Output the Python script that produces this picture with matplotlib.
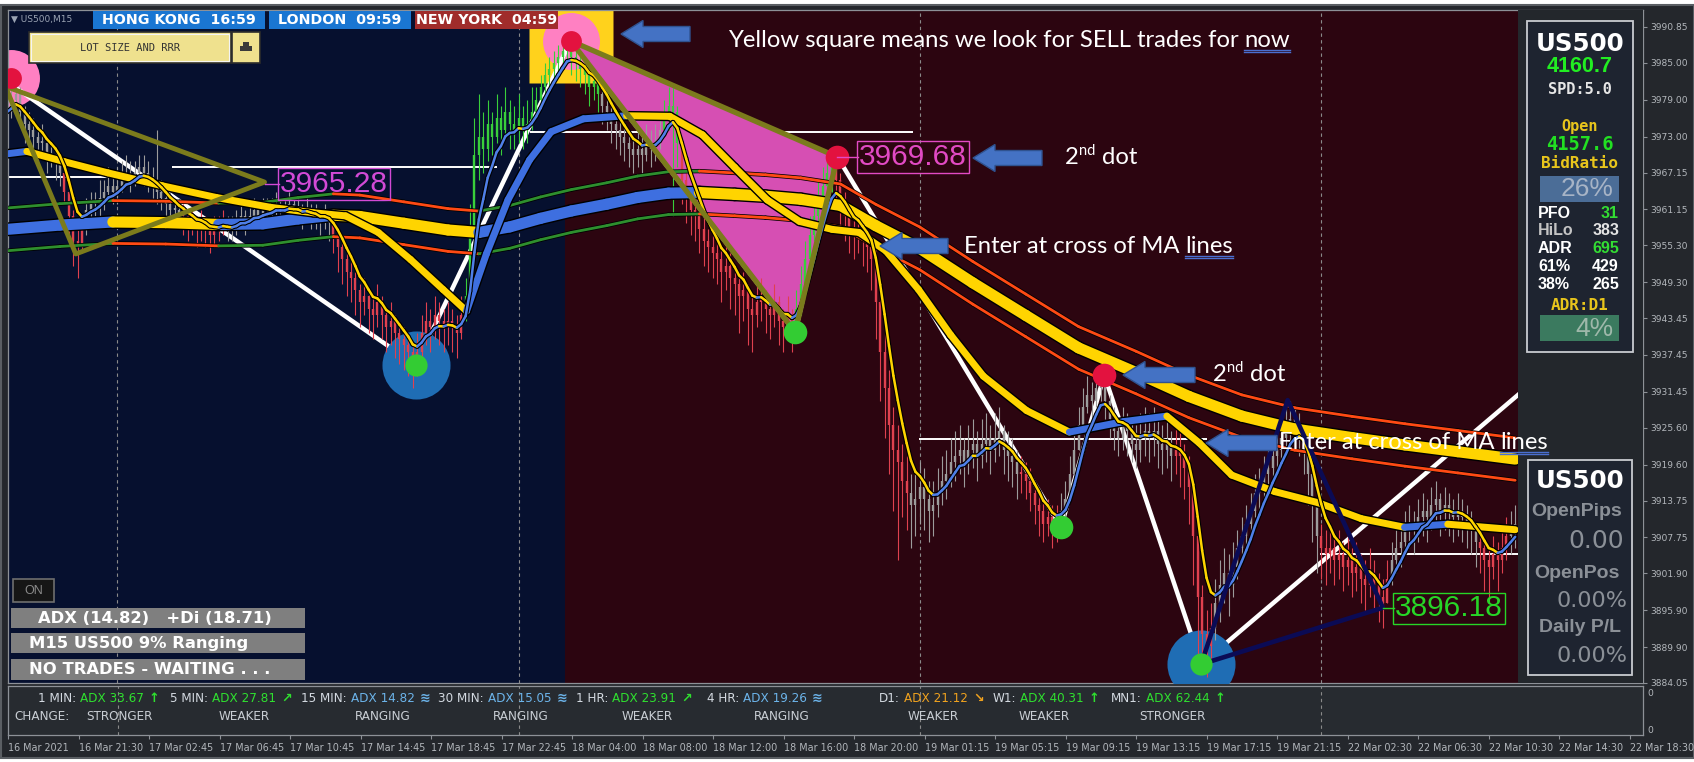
import numpy as np
import pandas as pd
import matplotlib
matplotlib.use("Agg")
import matplotlib.pyplot as plt
from matplotlib.collections import LineCollection
from matplotlib.patches import Rectangle, Polygon
from matplotlib import font_manager as fm

# ------------------------------------------------------------------ data
close = [
    3977, 3979, 3980, 3977, 3975, 3974, 3973, 3972, 3972, 3970,
    3970, 3969, 3967, 3964, 3960, 3956, 3955, 3958, 3961, 3962,
    3962, 3963, 3964, 3965, 3964, 3965, 3966, 3967, 3966, 3967,
    3968, 3967, 3966, 3965, 3964, 3963, 3962, 3961, 3961, 3960,
    3960, 3959, 3959, 3958, 3959, 3958, 3957, 3958, 3958, 3959,
    3958, 3958, 3959, 3960, 3959, 3960, 3961, 3960, 3961, 3961,
    3961, 3962, 3961, 3961, 3962, 3961, 3961, 3960, 3961, 3960,
    3960, 3959, 3960, 3959, 3957, 3955, 3953, 3951, 3950, 3948,
    3946, 3947, 3945, 3944, 3946, 3944, 3942, 3943, 3941, 3940,
    3939, 3938, 3936, 3938, 3941, 3943, 3942, 3944, 3943, 3942,
    3943, 3942, 3941, 3944, 3947, 3958, 3970, 3973, 3971, 3975,
    3973, 3976, 3974, 3977, 3975, 3974, 3976, 3974, 3975, 3977,
    3979, 3981, 3983, 3984, 3985, 3986, 3987, 3988, 3986, 3985,
    3984, 3983, 3981, 3982, 3980, 3978, 3977, 3975, 3974, 3973,
    3972, 3971, 3970, 3971, 3970, 3972, 3971, 3972, 3974, 3976,
    3978, 3977, 3972, 3966, 3963, 3961, 3960, 3958, 3956, 3955,
    3954, 3953, 3951, 3952, 3950, 3949, 3947, 3948, 3945, 3944,
    3946, 3947, 3945, 3944, 3946, 3943, 3942, 3944, 3942, 3945,
    3949, 3953, 3957, 3960, 3963, 3965, 3967, 3968, 3966, 3962,
    3960, 3958, 3957, 3958, 3956, 3955, 3953, 3946, 3938, 3932,
    3926, 3922, 3920, 3917, 3915, 3913, 3914, 3916, 3914, 3912,
    3913, 3915, 3917, 3918, 3920, 3921, 3922, 3920, 3922, 3923,
    3921, 3923, 3924, 3922, 3924, 3925, 3922, 3921, 3920, 3918,
    3918, 3917, 3915, 3913, 3912, 3910, 3911, 3909, 3910, 3912,
    3914, 3918, 3922, 3926, 3929, 3931, 3930, 3932, 3933, 3930,
    3927, 3925, 3924, 3926, 3925, 3923, 3922, 3924, 3925, 3924,
    3925, 3923, 3922, 3923, 3921, 3922, 3921, 3919, 3916, 3908,
    3898, 3892, 3890, 3893, 3897, 3900, 3902, 3900, 3903, 3906,
    3908, 3910, 3912, 3915, 3916, 3918, 3919, 3921, 3922, 3924,
    3925, 3927, 3926, 3925, 3922, 3918, 3913, 3908, 3906, 3905,
    3906, 3904, 3905, 3903, 3904, 3902, 3903, 3901, 3900, 3902,
    3900, 3898, 3897, 3901, 3904, 3906, 3907, 3909, 3910, 3909,
    3911, 3912, 3911, 3913, 3914, 3912, 3913, 3912, 3911, 3912,
    3911, 3910, 3909, 3907, 3906, 3904, 3903, 3905, 3904, 3906,
    3908, 3909, 3910]
high = [
    3979, 3981, 3983, 3981, 3978, 3977, 3976, 3974, 3975, 3973,
    3972, 3971, 3970, 3968, 3965, 3961, 3958, 3960, 3963, 3964,
    3964, 3966, 3966, 3968, 3967, 3968, 3969, 3970, 3969, 3969,
    3970, 3970, 3969, 3968, 3974, 3966, 3965, 3964, 3963, 3963,
    3962, 3961, 3961, 3960, 3961, 3960, 3959, 3960, 3960, 3961,
    3960, 3960, 3961, 3962, 3961, 3962, 3963, 3962, 3963, 3963,
    3963, 3964, 3963, 3963, 3964, 3963, 3963, 3962, 3963, 3962,
    3962, 3961, 3962, 3961, 3960, 3958, 3956, 3954, 3953, 3951,
    3949, 3950, 3948, 3947, 3949, 3947, 3945, 3946, 3944, 3943,
    3942, 3941, 3939, 3941, 3944, 3946, 3945, 3947, 3946, 3945,
    3946, 3945, 3944, 3947, 3950, 3962, 3976, 3980, 3977, 3979,
    3977, 3980, 3978, 3981, 3979, 3978, 3980, 3978, 3979, 3981,
    3981, 3983, 3985, 3986, 3987, 3988, 3989, 3990, 3989, 3988,
    3987, 3986, 3984, 3984, 3983, 3981, 3980, 3978, 3977, 3976,
    3975, 3974, 3973, 3974, 3973, 3975, 3974, 3975, 3977, 3979,
    3981, 3981, 3978, 3973, 3967, 3965, 3963, 3962, 3960, 3958,
    3957, 3956, 3955, 3955, 3954, 3952, 3951, 3951, 3949, 3947,
    3949, 3950, 3948, 3947, 3949, 3947, 3945, 3947, 3945, 3948,
    3952, 3956, 3960, 3963, 3966, 3968, 3969, 3970, 3969, 3967,
    3964, 3962, 3960, 3961, 3960, 3958, 3957, 3955, 3948, 3941,
    3935, 3929, 3926, 3923, 3921, 3918, 3918, 3920, 3919, 3917,
    3917, 3919, 3921, 3922, 3924, 3925, 3926, 3924, 3926, 3927,
    3925, 3927, 3928, 3926, 3928, 3929, 3926, 3925, 3924, 3922,
    3921, 3920, 3919, 3917, 3915, 3914, 3914, 3913, 3913, 3915,
    3917, 3921, 3925, 3929, 3932, 3934, 3933, 3934, 3935, 3933,
    3931, 3929, 3927, 3929, 3928, 3927, 3926, 3928, 3929, 3928,
    3929, 3927, 3926, 3927, 3925, 3926, 3925, 3923, 3921, 3917,
    3909, 3900, 3896, 3897, 3901, 3904, 3906, 3905, 3907, 3909,
    3911, 3913, 3915, 3918, 3919, 3921, 3922, 3924, 3925, 3927,
    3929, 3930, 3929, 3928, 3926, 3923, 3919, 3914, 3910, 3909,
    3910, 3908, 3909, 3907, 3908, 3906, 3907, 3905, 3904, 3906,
    3904, 3902, 3901, 3904, 3907, 3909, 3910, 3912, 3913, 3912,
    3914, 3915, 3914, 3916, 3917, 3915, 3916, 3915, 3914, 3915,
    3914, 3913, 3912, 3910, 3909, 3907, 3906, 3908, 3907, 3909,
    3911, 3912, 3913]
low = [
    3974, 3976, 3978, 3975, 3972, 3972, 3970, 3969, 3970, 3967,
    3968, 3966, 3965, 3962, 3957, 3952, 3950, 3954, 3957, 3959,
    3960, 3960, 3961, 3963, 3962, 3962, 3964, 3965, 3964, 3965,
    3966, 3965, 3964, 3963, 3962, 3961, 3960, 3959, 3959, 3958,
    3957, 3956, 3957, 3955, 3956, 3955, 3954, 3955, 3956, 3957,
    3956, 3956, 3957, 3958, 3957, 3958, 3959, 3958, 3959, 3959,
    3959, 3960, 3959, 3959, 3960, 3959, 3959, 3958, 3959, 3958,
    3958, 3957, 3958, 3956, 3954, 3951, 3949, 3947, 3946, 3944,
    3942, 3944, 3941, 3940, 3942, 3940, 3938, 3939, 3937, 3936,
    3935, 3934, 3932, 3934, 3937, 3939, 3938, 3940, 3939, 3938,
    3939, 3938, 3937, 3940, 3943, 3946, 3956, 3966, 3967, 3969,
    3970, 3972, 3970, 3973, 3971, 3971, 3972, 3971, 3972, 3974,
    3976, 3978, 3980, 3981, 3982, 3983, 3984, 3985, 3983, 3982,
    3981, 3980, 3978, 3979, 3977, 3975, 3974, 3972, 3971, 3970,
    3969, 3968, 3967, 3968, 3967, 3969, 3968, 3969, 3971, 3973,
    3974, 3960, 3968, 3962, 3959, 3957, 3956, 3954, 3952, 3951,
    3950, 3949, 3946, 3948, 3945, 3944, 3941, 3943, 3939, 3938,
    3942, 3943, 3941, 3940, 3942, 3939, 3938, 3940, 3938, 3941,
    3944, 3948, 3952, 3956, 3959, 3961, 3963, 3964, 3962, 3958,
    3956, 3954, 3953, 3954, 3952, 3951, 3948, 3940, 3930, 3924,
    3918, 3912, 3904, 3911, 3909, 3906, 3908, 3910, 3909, 3907,
    3908, 3911, 3913, 3914, 3916, 3917, 3918, 3916, 3918, 3919,
    3917, 3919, 3920, 3918, 3920, 3921, 3918, 3917, 3916, 3914,
    3915, 3914, 3912, 3910, 3908, 3907, 3908, 3906, 3907, 3909,
    3911, 3914, 3918, 3922, 3925, 3928, 3927, 3929, 3930, 3927,
    3924, 3922, 3921, 3922, 3921, 3920, 3919, 3920, 3921, 3920,
    3921, 3919, 3918, 3919, 3917, 3918, 3916, 3914, 3910, 3900,
    3888, 3886, 3885, 3887, 3891, 3894, 3897, 3895, 3898, 3901,
    3904, 3906, 3908, 3911, 3912, 3914, 3915, 3917, 3918, 3920,
    3921, 3923, 3922, 3921, 3918, 3913, 3907, 3902, 3901, 3900,
    3902, 3900, 3901, 3899, 3900, 3898, 3899, 3897, 3896, 3898,
    3896, 3894, 3893, 3897, 3900, 3902, 3903, 3905, 3906, 3905,
    3907, 3908, 3907, 3909, 3910, 3908, 3909, 3908, 3907, 3908,
    3907, 3906, 3905, 3903, 3902, 3899, 3897, 3901, 3899, 3902,
    3904, 3905, 3906]
trend_segments = [
    (0, 13, 'flat'), (13, 18, 'down'), (18, 40, 'flat'), (40, 50, 'down'),
    (50, 74, 'flat'), (74, 104, 'down'), (104, 135, 'up'), (135, 149, 'flat'),
    (149, 153, 'up'), (153, 179, 'down'), (179, 188, 'up'), (188, 205, 'down'),
    (205, 230, 'flat'), (230, 239, 'down'), (239, 265, 'flat'), (265, 274, 'down'),
    (274, 298, 'flat'), (298, 314, 'down'), (314, 334, 'flat'), (334, 341, 'down'),
    (341, 343, 'flat')]

slow_bar = [0, 12, 24, 36, 48, 58, 66, 74, 80, 90, 100, 107, 114, 121, 128, 136,
            143, 150, 157, 165, 172, 180, 189, 197, 207, 219, 231, 243, 256, 268,
            280, 292, 305, 317, 329, 342]
slow_val = [3957.9, 3958.6, 3959.1, 3959.0, 3958.7, 3958.8, 3959.6, 3960.2, 3960.0,
            3958.9, 3957.8, 3957.4, 3958.3, 3959.7, 3960.9, 3962.0, 3963.1, 3963.8,
            3963.9, 3963.6, 3963.3, 3962.8, 3961.8, 3958.5, 3954.8, 3949.2, 3943.9,
            3938.6, 3934.6, 3930.7, 3927.5, 3925.4, 3924.0, 3922.8, 3921.7, 3920.5]
mid_bar = [0, 4.5, 13.1, 22.9, 35.2, 47.4, 59.7, 69.5, 76.8, 84.2, 91.5, 98.9, 104.2,
           108.7, 113.6, 118.5, 123.4, 130.7, 140.5, 150.3, 157.7, 165.0, 172.4,
           179.7, 187.1, 193.2, 199.3, 206.7, 214.0, 221.4, 231.2, 240.9, 253.2,
           263.0, 270.4, 277.7, 287.5, 297.3, 307.1, 316.9, 326.7, 342.0]
mid_val = [3970.2, 3970.6, 3968.9, 3967.1, 3965.0, 3963.1, 3961.5, 3960.6, 3960.1,
           3957.4, 3953.0, 3948.1, 3944.6, 3953.9, 3962.7, 3969.2, 3973.8, 3975.9,
           3976.4, 3976.3, 3973.3, 3968.0, 3962.7, 3959.2, 3957.9, 3957.4, 3954.4,
           3948.1, 3940.7, 3934.0, 3928.4, 3924.9, 3926.6, 3927.5, 3923.1, 3917.9,
           3915.2, 3913.4, 3910.8, 3909.4, 3909.9, 3909.0]
fast_span = 6
envelope_pct = 0.088

zigzag_bar = [0.9, 92.7, 127.8, 178.7, 188.3, 239.0, 248.8, 270.8, 345.0]
zigzag_price = [3981.5, 3935.8, 3988.6, 3941.2, 3969.7, 3909.4, 3934.2, 3887.1, 3932.4]

level_start = [0, 37.4, 118.5, 206.8, 297.7]
level_end = [24.5, 111.0, 205.4, 272.0, 342.6]
level_price = [3966.4, 3968.1, 3973.8, 3923.8, 3905.0]

big_sell_bar = [0.9, 127.8]
big_sell_price = [3982.5, 3988.6]
big_buy_bar = [92.7, 270.8]
big_buy_price = [3935.8, 3887.1]
sell_bar = [188.3, 248.8]
sell_price = [3969.7, 3934.2]
buy_bar = [178.7, 239.0]
buy_price = [3941.2, 3909.4]

tri_a_bar = [-0.4, 15.6, 58.4]
tri_a_price = [3981.2, 3953.9, 3965.6]
tri_b_bar = [127.8, 188.3, 178.7]
tri_b_price = [3988.6, 3969.7, 3941.2]
tri_c_bar = [270.8, 290.4, 312.0]
tri_c_price = [3887.1, 3930.1, 3896.3]

plabel_text = ['3965.28', '3969.68', '3896.18']
plabel_value = [3965.28, 3969.68, 3896.18]
plabel_from = [58.4, 188.3, 312.0]
plabel_at = [61.7, 193.0, 314.5]

day_breaks = [25, 116, 207, 298]
session_split_bar = 126.5
panel_start_bar = 342.6

time_labels = ['16 Mar 2021', '16 Mar 21:30', '17 Mar 02:45', '17 Mar 06:45',
               '17 Mar 10:45', '17 Mar 14:45', '17 Mar 18:45', '17 Mar 22:45',
               '18 Mar 04:00', '18 Mar 08:00', '18 Mar 12:00', '18 Mar 16:00',
               '18 Mar 20:00', '19 Mar 01:15', '19 Mar 05:15', '19 Mar 09:15',
               '19 Mar 13:15', '19 Mar 17:15', '19 Mar 21:15', '22 Mar 02:30',
               '22 Mar 06:30', '22 Mar 10:30', '22 Mar 14:30', '22 Mar 18:30']
bars_per_label = 16
price_ticks = [3990.85, 3985.00, 3979.00, 3973.00, 3967.15, 3961.15, 3955.30,
               3949.30, 3943.45, 3937.45, 3931.45, 3925.60, 3919.60, 3913.75,
               3907.75, 3901.90, 3895.90, 3889.90, 3884.05]

adx_tf = ['1 MIN:', '5 MIN:', '15 MIN:', '30 MIN:', '1 HR:', '4 HR:', 'D1:', 'W1:', 'MN1:']
adx_value = [33.67, 27.81, 14.82, 15.05, 23.91, 19.26, 21.12, 40.31, 62.44]
adx_dir = ['up', 'rise', 'range', 'range', 'rise', 'range', 'fall', 'up', 'up']
adx_change = ['STRONGER', 'WEAKER', 'RANGING', 'RANGING', 'WEAKER', 'RANGING',
              'WEAKER', 'WEAKER', 'STRONGER']

# ------------------------------------------------------------------ fonts
def has_font(name):
    try:
        fm.findfont(fm.FontProperties(family=name), fallback_to_default=False)
        return True
    except Exception:
        return False

NARROW_OK = has_font('Liberation Sans Narrow')
NARROW = ['Liberation Sans Narrow', 'DejaVu Sans'] if NARROW_OK else ['DejaVu Sans']
NS = 1.0 if NARROW_OK else 0.84
ANNO = ['Lato', 'DejaVu Sans'] if has_font('Lato') else ['DejaVu Sans']
ARIAL = ['Liberation Sans', 'DejaVu Sans']
MONO = ['DejaVu Sans Mono']

# ------------------------------------------------------------------ figure
W, H, DPI = 1694, 762, 100
fig = plt.figure(figsize=(W / DPI, H / DPI), dpi=DPI)
fig.patch.set_facecolor('#ffffff')


def frac(x0, y0, x1, y1):
    return [x0 / W, 1 - y1 / H, (x1 - x0) / W, (y1 - y0) / H]


win = fig.add_axes([0, 0, 1, 1], zorder=-10)
win.set_xlim(0, W)
win.set_ylim(H, 0)
win.axis('off')
win.add_patch(Rectangle((0, 4), W, 754, fc='#24272c', ec='none'))
win.add_patch(Rectangle((0.5, 4.5), W - 1, 753, fc='none', ec='#5a5e63', lw=1.5))

X0, DX = 7.0, 4.41
P_REF, Y_REF, PPX = 3990.85, 27.0, 6.142
PX_L, PX_R, PX_T, PX_B = 8, 1643, 10, 683


def bar_at(px):
    return (px - X0) / DX


def price_at(py):
    return P_REF - (py - Y_REF) / PPX


GRID = '#8d9197'
ax = fig.add_axes(frac(PX_L, PX_T, PX_R, PX_B), zorder=1)
xl = (bar_at(PX_L), bar_at(PX_R))
ax.set_xlim(*xl)
ax.set_ylim(price_at(PX_B), price_at(PX_T))
ax.set_facecolor('#23272c')
for s in ax.spines.values():
    s.set_color(GRID)
    s.set_linewidth(0.9)
ax.axvspan(xl[0], session_split_bar, color='#06102f', lw=0, zorder=0)
ax.axvspan(session_split_bar, panel_start_bar, color='#2c0510', lw=0, zorder=0)
for b in day_breaks:
    ax.axvline(b, color='#8a8a8a', lw=0.8, ls=(0, (3, 3)), zorder=0.5)

ax.yaxis.tick_right()
ax.set_yticks(price_ticks)
ax.set_yticklabels([f'{v:.2f}' for v in price_ticks], fontsize=6.6, color='#b3b7bc')
ax.tick_params(axis='y', length=3, width=0.8, color=GRID, pad=2)
ax.set_xticks([])

# level lines
ax.hlines(level_price, level_start, level_end, color='white', lw=1.4, zorder=1.5)

# yellow square + pink rings (signal background)
ax.plot([big_sell_bar[1]], [big_sell_price[1]], marker='s', ms=60, mfc='#ffd21c',
        mec='none', ls='none', zorder=1.2)
ax.plot(big_sell_bar, big_sell_price, marker='o', ms=41, mfc='#ff80c2', mec='none',
        ls='none', zorder=1.3)

# zigzag
ax.plot(zigzag_bar, zigzag_price, color='white', lw=3.2, solid_capstyle='round',
        solid_joinstyle='round', zorder=2)

# pink triangle fill
ax.add_patch(Polygon(np.column_stack([tri_b_bar, tri_b_price]), closed=True,
                     fc='#d64fb3', ec='none', zorder=2.3))

# big buy circles
ax.plot(big_buy_bar, big_buy_price, marker='o', ms=49, mfc='#1f6db4', mec='none',
        ls='none', zorder=2.6)

# candles
c = np.asarray(close, float)
hi = np.asarray(high, float)
lo = np.asarray(low, float)
o = np.concatenate([[c[0]], c[:-1]])
bars = np.arange(len(c))
state = ['flat'] * len(c)
for s0, s1, st in trend_segments:
    for k in range(s0, min(s1, len(c))):
        state[k] = st
pal = {'up': '#39cf3b', 'down': '#e0414f', 'flat': '#9c9c9c'}
cols = [pal[s] for s in state]
ax.vlines(bars, lo, hi, colors=cols, lw=0.8, zorder=3)
b_lo = np.minimum(o, c)
b_hi = np.maximum(o, c)
b_hi = np.where(b_hi - b_lo < 0.35, b_lo + 0.35, b_hi)
ax.vlines(bars, b_lo, b_hi, colors=cols, lw=1.7, zorder=3)


# moving averages
def slope_line(x, y, lw, up, dn, z, outline=1.8):
    x = np.asarray(x, float)
    y = np.asarray(y, float)
    pts = np.column_stack([x, y])
    segs = np.stack([pts[:-1], pts[1:]], axis=1)
    rising = np.diff(y) >= 0
    colors = [up if r else dn for r in rising]
    if outline:
        ax.add_collection(LineCollection(segs, colors='black', linewidths=lw + outline,
                                         capstyle='round', joinstyle='round', zorder=z))
    ax.add_collection(LineCollection(segs, colors=colors, linewidths=lw,
                                     capstyle='round', joinstyle='round', zorder=z + 0.01))


YEL, BLU = '#ffd400', '#3e6fe0'
sv = np.asarray(slow_val)
env_up = sv * (1 + envelope_pct / 100)
env_dn = sv * (1 - envelope_pct / 100)
slow_rising = np.diff(sv) >= 0
for env in (env_up, env_dn):
    pts = np.column_stack([slow_bar, env])
    segs = np.stack([pts[:-1], pts[1:]], axis=1)
    ax.add_collection(LineCollection(segs, colors='black', linewidths=3.1,
                                     capstyle='round', zorder=4.9))
    ax.add_collection(LineCollection(segs, colors=['#2e8f2e' if r else '#ff4a14' for r in slow_rising],
                                     linewidths=2.0, capstyle='round', zorder=4.95))
slope_line(slow_bar, slow_val, 8.0, BLU, YEL, 5.0, outline=2.0)
slope_line(mid_bar, mid_val, 5.0, BLU, YEL, 5.3, outline=2.0)
fast = pd.Series(c).ewm(span=fast_span, adjust=False).mean().to_numpy()
slope_line(bars, fast, 1.8, '#4f7fe8', YEL, 5.6, outline=1.6)

# triangles
ax.add_patch(Polygon(np.column_stack([tri_a_bar, tri_a_price]), closed=True, fc='none',
                     ec='#7b7b1c', lw=3.5, joinstyle='round', zorder=7))
ax.add_patch(Polygon(np.column_stack([tri_b_bar, tri_b_price]), closed=True, fc='none',
                     ec='#7b7b1c', lw=3.8, joinstyle='round', zorder=7))
ax.add_patch(Polygon(np.column_stack([tri_c_bar, tri_c_price]), closed=True, fc='none',
                     ec='#0b0b55', lw=3.3, joinstyle='round', zorder=7))

# dots
ax.plot(big_sell_bar, big_sell_price, marker='o', ms=15, mfc='#e3123f', mec='none', ls='none', zorder=8)
ax.plot(big_buy_bar, big_buy_price, marker='o', ms=16, mfc='#33cc33', mec='none', ls='none', zorder=8)
ax.plot(sell_bar, sell_price, marker='o', ms=17, mfc='#e3123f', mec='none', ls='none', zorder=8)
ax.plot(buy_bar, buy_price, marker='o', ms=17, mfc='#33cc33', mec='none', ls='none', zorder=8)

# price labels
lab_cols = ['#d24ad6', '#e24ac4', '#27d627']
for t, v, b0, b1, col in zip(plabel_text, plabel_value, plabel_from, plabel_at, lab_cols):
    ax.plot([b0, b1], [v, v], color=col, lw=1.0, zorder=9)
    ax.text(b1 + 0.25, v, t, color=col, fontsize=21.5, family=ARIAL, va='center', ha='left',
            zorder=9, bbox=dict(boxstyle='square,pad=0.06', fc='none', ec=col, lw=1.0))

# right panel area
ax.axvspan(panel_start_bar, xl[1], color='#23272c', lw=0, zorder=10)

# ADX sub-window
adx = fig.add_axes(frac(PX_L, 686, PX_R, 735), zorder=1)
adx.set_xlim(*xl)
adx.set_ylim(0, 1)
adx.set_facecolor('#272b30')
for s in adx.spines.values():
    s.set_color(GRID)
    s.set_linewidth(0.9)
for b in day_breaks:
    adx.axvline(b, color='#8a8a8a', lw=0.8, ls=(0, (3, 3)), zorder=0.5)
adx.yaxis.tick_right()
adx.set_yticks([0.12, 0.86])
adx.set_yticklabels(['0', '0'], fontsize=6.6, color='#b3b7bc')
adx.tick_params(axis='y', length=0, pad=3)
tick_bars = np.arange(len(time_labels)) * bars_per_label
adx.set_xticks(tick_bars)
adx.set_xticklabels(time_labels, ha='left', fontsize=6.9, color='#b3b7bc')
adx.tick_params(axis='x', length=3, width=0.8, color=GRID, pad=3)

# ------------------------------------------------------------------ overlay (pixels)
ov = fig.add_axes([0, 0, 1, 1], zorder=20)
ov.set_xlim(0, W)
ov.set_ylim(H, 0)
ov.axis('off')
ov.patch.set_alpha(0)
R = fig.canvas.get_renderer()


def width_of(t):
    return t.get_window_extent(R).width


# header
ov.text(11, 19.5, '▼ US500,M15', fontsize=6.5, color='#9aa3b3', va='center', family=['DejaVu Sans'])
for x0, x1, col, t in [(93, 265, '#1a76d2', 'HONG KONG  16:59'),
                       (269, 411, '#1a76d2', 'LONDON  09:59'),
                       (415, 558, '#a02c2b', 'NEW YORK  04:59')]:
    ov.add_patch(Rectangle((x0, 11), x1 - x0, 18, fc=col, ec='none'))
    ov.text((x0 + x1) / 2, 20.5, t, color='white', weight='bold', fontsize=12.2 * NS,
            family=NARROW, ha='center', va='center')

# lot size button
ov.add_patch(Rectangle((29, 32), 202, 31, fc='#efe18e', ec='#2c2c2c', lw=1.2))
ov.add_patch(Rectangle((31, 34), 198, 27, fc='none', ec='#f4f4f4', lw=0.8))
ov.text(130, 48, 'LOT SIZE AND RRR', family=MONO, fontsize=7.5, color='#333333',
        ha='center', va='center')
ov.add_patch(Rectangle((232, 32), 28, 31, fc='#efe18e', ec='#2c2c2c', lw=1.2))
ov.add_patch(Rectangle((240, 46), 12, 5, fc='#3a3a3a', ec='none'))
ov.add_patch(Rectangle((243, 42), 6, 4, fc='#3a3a3a', ec='none'))


# blue arrows
def block_arrow(tip_x, y, tail_x, head_len=22, head_h=13.5, body_h=7.5):
    pts = [(tip_x, y), (tip_x + head_len, y - head_h), (tip_x + head_len, y - body_h),
           (tail_x, y - body_h), (tail_x, y + body_h), (tip_x + head_len, y + body_h),
           (tip_x + head_len, y + head_h)]
    ov.add_patch(Polygon(pts, closed=True, fc='#4472c4', ec='#2f528f', lw=1.0))


for tip, y, tail in [(621, 34, 690), (973, 158, 1042), (880, 246, 948),
                     (1123, 375, 1195), (1206, 443, 1277)]:
    block_arrow(tip, y, tail)

# annotation texts
AFS = 17.2
SPACE = 0.23 * AFS * DPI / 72


def annotate(x, yc, parts):
    y = yc + 7
    for i, (s, kind) in enumerate(parts):
        if kind == 'sup':
            t = ov.text(x + 0.5, y - 9, s, fontsize=10.5, family=ANNO, color='white',
                        va='baseline', ha='left')
        else:
            t = ov.text(x, y, s, fontsize=AFS, family=ANNO, color='white', va='baseline', ha='left')
        w = width_of(t)
        if kind == 'ul':
            ov.plot([x, x + w], [y + 3.0, y + 3.0], color='#4a6fd0', lw=1.0)
            ov.plot([x, x + w], [y + 5.0, y + 5.0], color='#4a6fd0', lw=1.0)
        x += w + (1.5 if kind == 'sup' else 0)
        if i + 1 < len(parts) and parts[i + 1][1] != 'sup':
            x += SPACE


annotate(728, 40, [('Yellow square means we look for SELL trades for', 'n'), ('now', 'ul')])
annotate(1065, 157, [('2', 'n'), ('nd', 'sup'), ('dot', 'n')])
annotate(964, 246, [('Enter at cross of MA', 'n'), ('lines', 'ul')])
annotate(1213, 374, [('2', 'n'), ('nd', 'sup'), ('dot', 'n')])
annotate(1279, 442, [('Enter at cross of MA', 'n'), ('lines', 'ul')])

# right info panel 1
PBG, PED = '#1e2430', '#c9ccd0'
ov.add_patch(Rectangle((1527, 21), 106, 331, fc=PBG, ec=PED, lw=1.3))
ov.text(1580, 44, 'US500', color='white', fontsize=21 * NS, weight='bold', family=NARROW,
        ha='center', va='center')
ov.text(1580, 67, '4160.7', color='#22ee22', fontsize=15.5, weight='bold', family=ARIAL,
        ha='center', va='center')
ov.text(1580, 89, 'SPD:5.0', color='#e6e6e6', fontsize=11, weight='bold', family=MONO,
        ha='center', va='center')
ov.text(1580, 126, 'Open', color='#e8c51c', fontsize=11, weight='bold', family=MONO,
        ha='center', va='center')
ov.text(1580, 144, '4157.6', color='#22e022', fontsize=13.5, weight='bold', family=MONO,
        ha='center', va='center')
ov.text(1580, 164, 'BidRatio', color='#e8c51c', fontsize=11.5, weight='bold', family=MONO,
        ha='center', va='center')
ov.add_patch(Rectangle((1540, 176), 79, 26, fc='#4b6d97', ec='none'))
ov.text(1614, 189.5, '26%', color='#a7b4c6', fontsize=19, family=ARIAL, ha='right', va='center')
rows = [('PFO', '31', 'white', '#33dd33'), ('HiLo', '383', '#c4c4c4', '#e4e4e4'),
        ('ADR', '695', 'white', '#33dd33'), ('61%', '429', 'white', 'white'),
        ('38%', '265', 'white', 'white')]
for k, (a, b, ca, cb) in enumerate(rows):
    yy = 213 + k * 17.8
    ov.text(1538, yy, a, color=ca, fontsize=11.5, weight='bold', family=ARIAL, ha='left', va='center')
    ov.text(1619, yy, b, color=cb, fontsize=11.5, weight='bold', family=ARIAL, ha='right', va='center')
ov.text(1580, 305, 'ADR:D1', color='#e8c51c', fontsize=11.5, weight='bold', family=MONO,
        ha='center', va='center')
ov.add_patch(Rectangle((1540, 315), 79, 26, fc='#3b7a5f', ec='none'))
ov.text(1614, 328.5, '4%', color='#9fb8aa', fontsize=19, family=ARIAL, ha='right', va='center')

# right info panel 2
GR = '#8b9097'
ov.add_patch(Rectangle((1528, 460), 104, 215, fc=PBG, ec=PED, lw=1.3))
ov.text(1580, 481, 'US500', color='white', fontsize=21 * NS, weight='bold', family=NARROW,
        ha='center', va='center')
ov.text(1577, 512, 'OpenPips', color=GR, fontsize=14, weight='bold', family=ARIAL, ha='center', va='center')
ov.text(1624, 541, '0.00', color=GR, fontsize=18, family=['DejaVu Sans'], ha='right', va='center')
ov.text(1577, 573, 'OpenPos', color=GR, fontsize=14, weight='bold', family=ARIAL, ha='center', va='center')
ov.text(1627, 601, '0.00%', color=GR, fontsize=16, family=['DejaVu Sans'], ha='right', va='center')
ov.text(1580, 628, 'Daily P/L', color=GR, fontsize=14, weight='bold', family=ARIAL, ha='center', va='center')
ov.text(1627, 656, '0.00%', color=GR, fontsize=16, family=['DejaVu Sans'], ha='right', va='center')

# bottom-left status boxes
ov.add_patch(Rectangle((13, 579), 41, 23, fc='#161616', ec='#6e6e6e', lw=1.2))
ov.text(33.5, 590.5, 'ON', color='#8a8a8a', fontsize=9, family=ARIAL, ha='center', va='center')
for (y0, y1) in [(608, 628), (633, 653), (659, 680)]:
    ov.add_patch(Rectangle((11, y0), 294, y1 - y0, fc='#7f7f7f', ec='none'))
ov.text(155, 618.5, 'ADX (14.82)   +Di (18.71)', color='white', fontsize=14 * NS,
        weight='bold', family=NARROW, ha='center', va='center')
ov.text(29, 643.5, 'M15 US500 9% Ranging', color='white', fontsize=14 * NS,
        weight='bold', family=NARROW, ha='left', va='center')
ov.text(29, 670, 'NO TRADES - WAITING . . .', color='white', fontsize=14 * NS,
        weight='bold', family=NARROW, ha='left', va='center')

# ADX strength row
tf_right = [76, 208, 347, 484, 608, 739, 900, 1016, 1142]
change_x = [119, 244, 383, 521, 647, 782, 933, 1044, 1172]
dir_color = {'up': '#2fe02f', 'rise': '#2fe02f', 'range': '#6cb4ea', 'fall': '#f0a21e'}
dir_glyph = {'up': '↑', 'rise': '↗', 'range': '≋', 'fall': '↘'}
AF = 10.3 * NS
for tf, v, d, ch, xr, xc in zip(adx_tf, adx_value, adx_dir, adx_change, tf_right, change_x):
    ov.text(xr, 698, tf, color='#d3d9e0', fontsize=AF, family=NARROW, ha='right', va='center')
    tv = ov.text(xr + 4, 698, f'ADX {v:.2f}', color=dir_color[d], fontsize=AF, family=NARROW,
                 ha='left', va='center')
    xe = xr + 4 + width_of(tv)
    ov.text(xe + 5, 698, dir_glyph[d], color=dir_color[d], fontsize=AF + 0.5, weight='bold',
            family=['DejaVu Sans'], ha='left', va='center')
    ov.text(xc, 716, ch, color='#c9ced4', fontsize=AF, family=NARROW, ha='center', va='center')
ov.text(70, 716, 'CHANGE:', color='#c9ced4', fontsize=AF, family=NARROW, ha='right', va='center')

fig.savefig('out.png', dpi=DPI, facecolor=fig.get_facecolor())
